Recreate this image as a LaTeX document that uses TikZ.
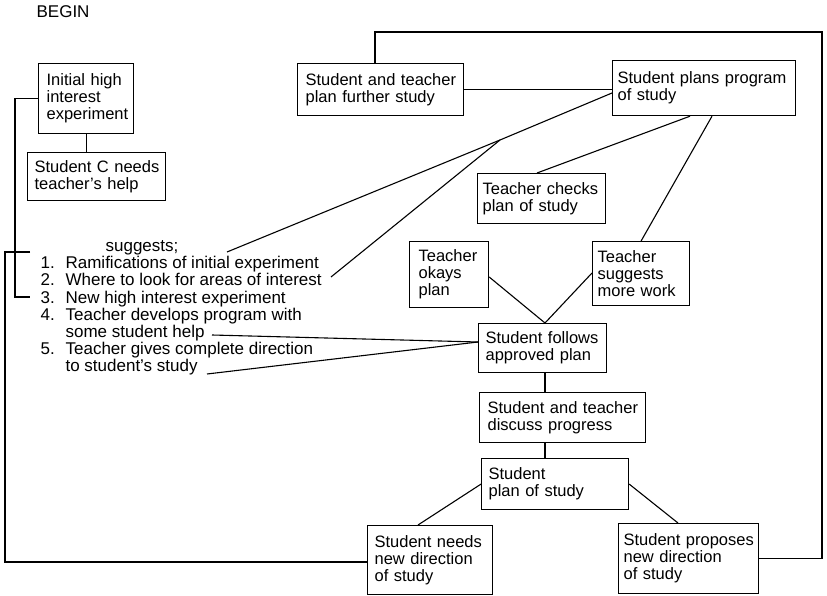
\documentclass[tikz,border=0pt]{standalone}
\usepackage{fontspec}
\setmainfont{Liberation Sans}
\usetikzlibrary{calc}
\newcommand\dfont{\fontsize{16.5}{17}\selectfont\hyphenpenalty=10000\exhyphenpenalty=10000\relax}
\newcommand\lfont{\fontsize{17}{17}\selectfont}
\begin{document}
\begin{tikzpicture}[x=1pt,y=-1pt,line width=1.2pt,
  box/.style={draw,anchor=north west,align=left,inner ysep=0pt,font=\dfont},
  lbl/.style={anchor=base west,inner sep=0pt,font=\lfont},
  conn/.style={line width=1.1pt}]
\useasboundingbox[fill=white] (0,0) rectangle (827,596);

% title
\node[lbl] (begin) at (36,18) {BEGIN};

% boxes
\node[box,minimum height=70pt,text width=79pt,inner xsep=8pt] (init) at (38,63) {Initial~high\\interest\\experiment};
\node[box,minimum height=48pt,text width=124pt,inner xsep=7pt] (needc) at (27,152) {Student~C~needs\\teacher’s~help};
\node[box,minimum height=52pt,text width=150pt,inner xsep=8pt] (further) at (297,63) {Student~and~teacher\\plan~further~study};
\node[box,minimum height=55pt,text width=173pt,inner xsep=5pt] (plans) at (612,60) {Student~plans~program\\of~study};
\node[box,minimum height=50pt,text width=118pt,inner xsep=5pt] (checks) at (477,173) {Teacher~checks\\plan~of~study};
\node[box,minimum height=66pt,text width=61pt,inner xsep=9pt] (okays) at (409,241) {Teacher\\okays\\plan};
\node[box,minimum height=64pt,text width=87pt,inner xsep=5pt] (suggests) at (592,241) {Teacher\\suggests\\more~work};
\node[box,minimum height=49pt,text width=114pt,inner xsep=7pt] (follows) at (478,323) {Student~follows\\approved~plan};
\node[box,minimum height=50pt,text width=150pt,inner xsep=8pt] (discuss) at (479,392) {Student~and~teacher\\discuss~progress};
\node[box,minimum height=51pt,text width=133pt,inner xsep=7pt] (splan) at (481,458) {Student\\plan~of~study};
\node[box,minimum height=69pt,text width=111pt,inner xsep=7pt] (sneeds) at (367,525) {Student~needs\\new~direction\\of~study};
\node[box,minimum height=70pt,text width=130pt,inner xsep=5pt] (sprop) at (618,523) {\mbox{Student~proposes}\\new~direction\\of~study};

% list of suggestions
\node[lbl] (sug) at (105,251.5) {suggests;};
\node[lbl] (l1) at (40,268.7) {\makebox[25pt][l]{1.}Ramifications of initial experiment};
\node[lbl] (l2) at (40,285.9) {\makebox[25pt][l]{2.}Where to look for areas of interest};
\node[lbl] (l3) at (40,303.1) {\makebox[25pt][l]{3.}New high interest experiment};
\node[lbl] (l4) at (40,320.3) {\makebox[25pt][l]{4.}Teacher develops program with};
\node[lbl] (l4b) at (65,337.5) {some student help};
\node[lbl] (l5) at (40,354.7) {\makebox[25pt][l]{5.}Teacher gives complete direction};
\node[lbl] (l5b) at (65,371.9) {to student’s study};

% free ends and junctions
\coordinate (c1) at (227,252);
\coordinate (c2) at (331,277);
\coordinate (c4) at (212,335);
\coordinate (c5) at (207,374);
\coordinate (cl) at (30,252);
\coordinate (cb) at (30,297);
\coordinate (j1) at (500,140);
\coordinate (rt) at (822,32);
\coordinate (pl) at ($(plans.north west)+(0,33)$);
\coordinate (jf) at ($(follows.north west)+(0,19)$);
\coordinate (fin) at ($(follows.north west)+(67,0)$);

% connectors
\draw[conn] (c1) -- (j1) -- (pl);
\draw[conn] (c2) -- (j1);
\draw[conn] (c4) -- (jf);
\draw[conn] (c5) -- (jf);
\draw[conn] (further.east) -- (further.east -| plans.west);
\draw[conn] ($(checks.north west)+(60,0)$) -- ($(plans.south west)+(78,0)$);
\draw[conn] ($(plans.south west)+(100,0)$) -- (suggests.north);
\draw[conn] ($(okays.north east)+(0,36)$) -- (fin);
\draw[conn] ($(suggests.north west)+(0,32)$) -- (fin);
\draw[conn] (fin |- follows.south) -- (fin |- discuss.north);
\draw[conn] (fin |- discuss.south) -- (fin |- splan.north);
\draw[conn] (splan.west) -- ($(sneeds.north west)+(51,0)$);
\draw[conn] (splan.east) -- ($(sprop.north west)+(60,0)$);
\draw[conn] (init.south) -- (init.south |- needc.north);
\draw[conn] (init.west) -- ++(-23,0) |- (cb);
\draw[conn] (cl) -- ++(-25,0) |- ($(sneeds.north west)+(0,37)$);
\draw[conn] (sprop.east) -| (rt) -| ($(further.north west)+(78,0)$);
\end{tikzpicture}
\end{document}
